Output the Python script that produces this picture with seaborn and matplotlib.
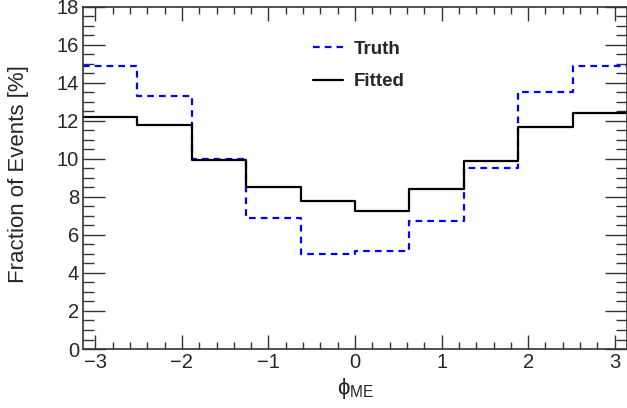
import numpy as np
import pandas as pd
import matplotlib
matplotlib.use('Agg')
import matplotlib.pyplot as plt
from matplotlib.ticker import MultipleLocator
from matplotlib.lines import Line2D
import seaborn as sns

sns.set_style('ticks')
plt.rcParams['font.family'] = ['Liberation Sans', 'DejaVu Sans']
plt.rcParams['mathtext.fontset'] = 'custom'
plt.rcParams['mathtext.rm'] = 'Liberation Sans'
plt.rcParams['mathtext.it'] = 'Liberation Sans'

# 10 bins over [-pi, pi]
n_bins = 10
edges = np.linspace(-np.pi, np.pi, n_bins + 1)
centers = 0.5 * (edges[:-1] + edges[1:])

truth = [14.87, 13.33, 10.0, 6.89, 5.0, 5.14, 6.72, 9.5, 13.5, 14.91]
fitted = [12.21, 11.79, 9.97, 8.53, 7.77, 7.28, 8.44, 9.87, 11.66, 12.4]

df = pd.DataFrame({'phi': np.concatenate([centers, centers]),
                   'frac': truth + fitted,
                   'kind': ['Truth'] * n_bins + ['Fitted'] * n_bins})

dash = (0, (3, 2.3))

fig = plt.figure(figsize=(6.27, 4.08), dpi=100)
ax = fig.add_axes([0.1325, 0.1446, 0.8675, 0.8385])

sns.histplot(data=df[df.kind == 'Truth'], x='phi', weights='frac', bins=list(edges),
             element='step', fill=False, color='#0000ff', linestyle=dash,
             linewidth=1.6, ax=ax)
sns.histplot(data=df[df.kind == 'Fitted'], x='phi', weights='frac', bins=list(edges),
             element='step', fill=False, color='black', linewidth=1.6, ax=ax)

ax.set_xlim(-np.pi, np.pi)
ax.set_ylim(0, 18)
ax.xaxis.set_major_locator(MultipleLocator(1))
ax.xaxis.set_minor_locator(MultipleLocator(0.2))
ax.yaxis.set_major_locator(MultipleLocator(2))
ax.yaxis.set_minor_locator(MultipleLocator(0.5))
ax.tick_params(which='both', direction='in', top=True, right=True,
               labelsize=14.5, width=1, color='#333333')
ax.tick_params(axis='x', which='major', length=10)
ax.tick_params(axis='x', which='minor', length=5)
ax.tick_params(axis='y', which='major', length=16)
ax.tick_params(axis='y', which='minor', length=8)
ax.tick_params(axis='x', pad=3)
ax.tick_params(axis='y', pad=3)
ax.set_xticks(range(-3, 4))
ax.set_xticklabels([f'{t}'.replace('-', '\u2212') for t in range(-3, 4)])
for s in ax.spines.values():
    s.set_linewidth(1.2)
    s.set_color('#333333')

ax.set_ylabel('Fraction of Events [%]', fontsize=16)
ax.yaxis.set_label_coords(-0.099, 0.51)
ax.set_xlabel(r'$\phi_{\mathregular{ME}}$', fontsize=16)
ax.xaxis.set_label_coords(0.5, -0.08)

handles = [Line2D([], [], color='#0000ff', linestyle=dash, linewidth=1.6),
           Line2D([], [], color='black', linewidth=1.6)]
ax.legend(handles, ['Truth', 'Fitted'], loc='upper left', bbox_to_anchor=(0.392, 0.95),
          frameon=False, prop={'weight': 'bold', 'size': 13.5}, handlelength=1.6,
          labelspacing=0.8, handletextpad=0.55)

fig.savefig('out.png', dpi=100)
